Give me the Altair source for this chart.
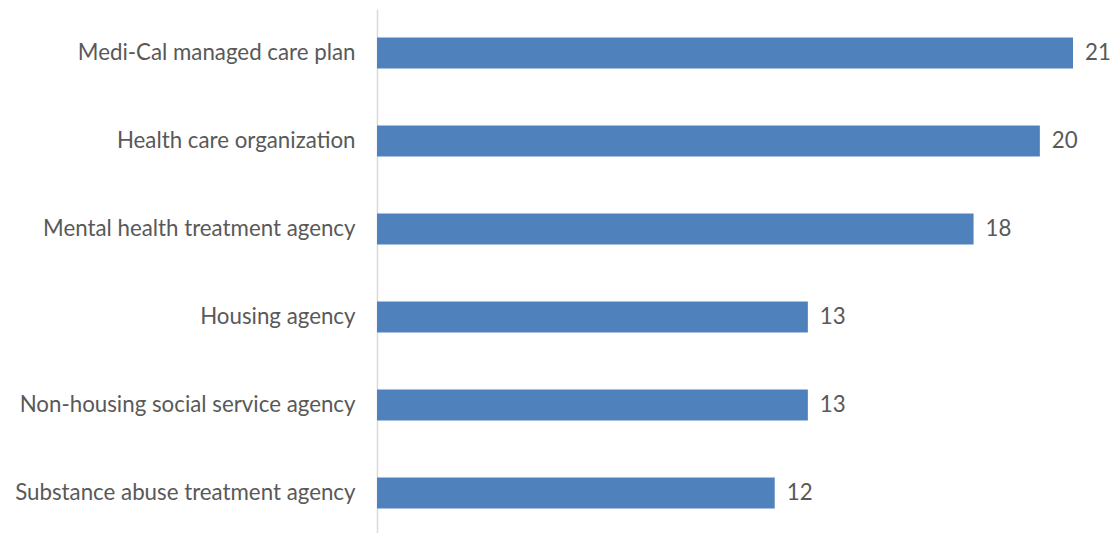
import altair as alt
import pandas as pd

categories = [
    "Medi-Cal managed care plan",
    "Health care organization",
    "Mental health treatment agency",
    "Housing agency",
    "Non-housing social service agency",
    "Substance abuse treatment agency",
]
values = [21, 20, 18, 13, 13, 12]

df = pd.DataFrame({"category": categories, "value": values})

FONT = "Lato"
TXT = "#595959"
FS = 22.3

y = alt.Y(
    "category:N",
    sort=categories,
    title=None,
    scale=alt.Scale(paddingInner=0.648, paddingOuter=0.324),
    axis=alt.Axis(
        labelFont=FONT,
        labelFontSize=FS,
        labelColor=TXT,
        labelPadding=22,
        ticks=False,
        domainColor="#D9D9D9",
        domainWidth=1.5,
        labelLimit=400,
    ),
)
x = alt.X(
    "value:Q",
    title=None,
    scale=alt.Scale(domain=[0, 21], nice=False),
    axis=None,
)

bars = alt.Chart(df).mark_bar(color="#4F81BD").encode(x=x, y=y)
labels = alt.Chart(df).mark_text(
    align="left", baseline="middle", dx=12, font=FONT, fontSize=FS, color=TXT
).encode(x=x, y=y, text="value:Q")

chart = (
    alt.layer(bars, labels)
    .properties(
        width=696,
        height=528,
        autosize=alt.AutoSizeParams(type="none"),
        padding={"left": 369, "top": 1, "right": 38, "bottom": 0},
    )
    .configure(background="white", view=alt.ViewConfig(stroke=None, strokeWidth=0))
)

chart.save("out.html", embed_options={"renderer": "svg", "actions": False})
